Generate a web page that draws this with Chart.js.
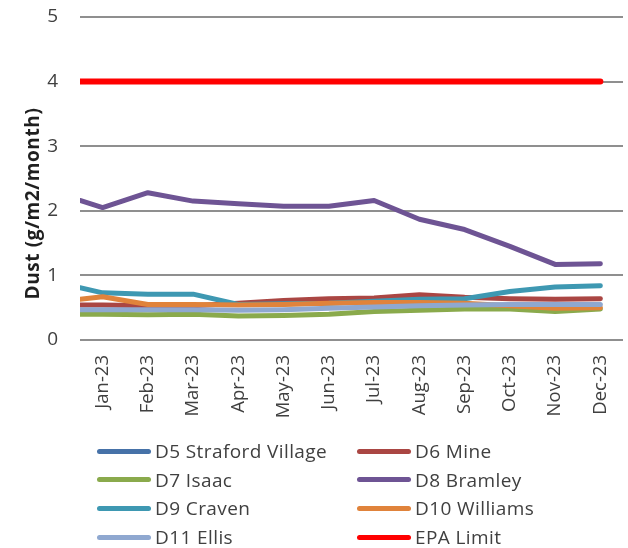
<!DOCTYPE html>
<html>
<head>
<meta charset="utf-8">
<script src="https://cdn.jsdelivr.net/npm/chart.js@4/dist/chart.umd.min.js"></script>
<style>
  html, body { margin: 0; padding: 0; background: #fff; }
  #wrap { position: relative; width: 628px; height: 548px; }
  #wrap canvas { position: absolute; left: 0; top: 0; }
  .legend { position: absolute; left: 0; top: 0; width: 628px; height: 548px; pointer-events: none;
            font-family: "Open Sans", "Noto Sans", sans-serif; font-size: 19px; letter-spacing: 0.4px; color: #404040; }
  .legend .item { position: absolute; display: flex; align-items: center; height: 24px; white-space: nowrap; }
  .legend .swatch { width: 54px; height: 5px; border-radius: 3px; margin-right: 4px; }
</style>
</head>
<body>
<div id="wrap">
  <canvas id="c" width="628" height="548"></canvas>
  <div class="legend" id="legend"></div>
</div>
<script>
// Monthly dust deposition, 2023. Each series starts with a lead-in value
// at the left edge of the plot, then Jan..Dec.
const months = ["Jan-23", "Feb-23", "Mar-23", "Apr-23", "May-23", "Jun-23",
                "Jul-23", "Aug-23", "Sep-23", "Oct-23", "Nov-23", "Dec-23"];

const straford = [null, null, null, null, null, null, null, null, null, null, null, null, null];
const mine     = [0.54, 0.54, 0.53, 0.53, 0.57, 0.61, 0.64, 0.65, 0.70, 0.66, 0.64, 0.63, 0.64];
const isaac    = [0.40, 0.40, 0.39, 0.40, 0.37, 0.38, 0.40, 0.44, 0.46, 0.48, 0.48, 0.44, 0.48];
const bramley  = [2.16, 2.05, 2.28, 2.15, 2.11, 2.07, 2.07, 2.16, 1.87, 1.71, 1.45, 1.17, 1.18];
const craven   = [0.81, 0.73, 0.71, 0.71, 0.55, 0.56, 0.57, 0.60, 0.63, 0.64, 0.75, 0.82, 0.84];
const williams = [0.63, 0.67, 0.55, 0.55, 0.54, 0.55, 0.57, 0.58, 0.58, 0.57, 0.53, 0.49, 0.50];
const ellis    = [0.47, 0.47, 0.47, 0.47, 0.46, 0.47, 0.49, 0.51, 0.53, 0.54, 0.55, 0.55, 0.55];
const epaLimit = [4, 4, 4, 4, 4, 4, 4, 4, 4, 4, 4, 4, 4];

const yTicks = [0, 1, 2, 3, 4, 5];

const SERIES = [
  ["D5 Straford Village", straford, "#4672A8", 5],
  ["D6 Mine",             mine,     "#AA4643", 5],
  ["D7 Isaac",            isaac,    "#8AAA4C", 5],
  ["D8 Bramley",          bramley,  "#6E5494", 5],
  ["D9 Craven",           craven,   "#3E98B2", 5],
  ["D10 Williams",        williams, "#E0833B", 5],
  ["D11 Ellis",           ellis,    "#8FA8D0", 5],
  ["EPA Limit",           epaLimit, "#FF0000", 6],
];

// x position of each value: lead-in at the plot edge, then one per month
const xPos = [-0.5, ...months.map((_, i) => i)];

const FONT = "'Open Sans', 'Noto Sans', sans-serif";
const TEXT = "#404040";

// Excel draws later series on top; Chart.js draws higher `order` first.
const datasets = SERIES.map(([label, vals, color, w], i) => ({
  label,
  data: vals.map((v, j) => ({ x: xPos[j], y: v })),
  borderColor: color,
  backgroundColor: color,
  borderWidth: w,
  borderCapStyle: "round",
  borderJoinStyle: "round",
  pointRadius: 0,
  pointHoverRadius: 0,
  fill: false,
  tension: 0,
  clip: 0,
  order: SERIES.length - i,
}));

// Rotated y-axis title, sitting a bit below the plot's centre like the original
const yTitle = {
  id: "yTitle",
  afterDraw(chart) {
    const { ctx, chartArea } = chart;
    ctx.save();
    ctx.translate(34, (chartArea.top + chartArea.bottom) / 2 + 25);
    ctx.rotate(-Math.PI / 2);
    ctx.font = `bold 19px ${FONT}`;
    if ("letterSpacing" in ctx) ctx.letterSpacing = "0.6px";
    ctx.fillStyle = "#1f1f1f";
    ctx.textAlign = "center";
    ctx.textBaseline = "middle";
    ctx.fillText("Dust (g/m2/month)", 0, 0);
    ctx.restore();
  },
};

const chart = new Chart(document.getElementById("c"), {
  type: "line",
  data: { datasets },
  options: {
    responsive: false,
    animation: false,
    events: [],
    layout: { padding: { top: 17, right: 5, bottom: 108, left: 0 } },
    plugins: { legend: { display: false }, tooltip: { enabled: false } },
    scales: {
      x: {
        type: "linear",
        min: -0.5,
        max: 11.5,
        grid: { display: false, drawTicks: false },
        border: { display: false },
        afterBuildTicks: (s) => { s.ticks = months.map((_, i) => ({ value: i })); },
        afterFit: (s) => { s.height = 100; s.paddingLeft = 0; s.paddingRight = 0; },
        ticks: {
          autoSkip: false,
          minRotation: 90,
          maxRotation: 90,
          padding: 15,
          color: TEXT,
          font: { family: FONT, size: 18.5 },
          callback: (v) => months[v] ?? "",
        },
      },
      y: {
        min: yTicks[0],
        max: yTicks[yTicks.length - 1],
        grid: { color: "#8f8f8f", lineWidth: 2, drawTicks: false },
        border: { display: false },
        afterFit: (s) => { s.width = 80; s.paddingTop = 0; s.paddingBottom = 0; },
        ticks: {
          stepSize: 1,
          padding: 22,
          color: TEXT,
          font: { family: FONT, size: 19 },
        },
      },
    },
  },
  plugins: [yTitle],
});

// Two-column legend built from the chart's datasets
const legend = document.getElementById("legend");
const COLS = [97, 357];
const ROW0 = 451, ROW_H = 28.7;
chart.data.datasets.forEach((ds, i) => {
  const item = document.createElement("div");
  item.className = "item";
  item.style.left = COLS[i % 2] + "px";
  item.style.top = (ROW0 + Math.floor(i / 2) * ROW_H - 12) + "px";
  item.innerHTML = `<span class="swatch" style="background:${ds.borderColor}"></span><span>${ds.label}</span>`;
  legend.appendChild(item);
});
</script>
</body>
</html>
